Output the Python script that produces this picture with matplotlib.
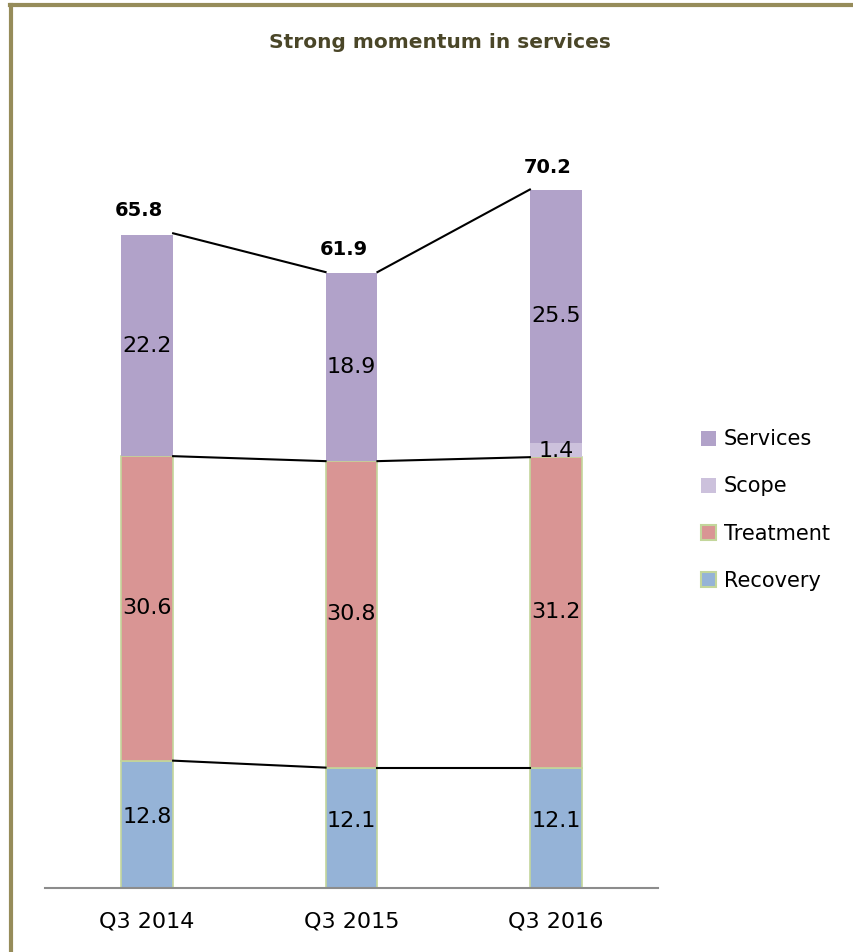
import matplotlib.pyplot as plt
from matplotlib.lines import Line2D
from matplotlib.patches import Patch

quarters = ['Q3 2014', 'Q3 2015', 'Q3 2016']
recovery = [12.8, 12.1, 12.1]
treatment = [30.6, 30.8, 31.2]
scope = [0, 0, 1.4]
services = [22.2, 18.9, 25.5]
totals = [65.8, 61.9, 70.2]

c_serv = '#B1A2C9'
c_scope = '#CCC1DC'
c_treat = '#D99594'
c_rec = '#95B3D7'
c_edge = '#C3D69B'
c_frame = '#968C5A'

plt.rcParams['font.family'] = ['DejaVu Sans']

fig = plt.figure(figsize=(8.54, 9.52), dpi=100)
ax = fig.add_axes([45 / 854, 64 / 952, 613 / 854, 796 / 952])

x = list(range(len(quarters)))
w = 0.254
b1 = recovery
b2 = [r + t for r, t in zip(recovery, treatment)]
b3 = [a + s for a, s in zip(b2, scope)]
ax.bar(x, recovery, w, color=c_rec, edgecolor=c_edge, linewidth=1.2)
ax.bar(x, treatment, w, bottom=b1, color=c_treat, edgecolor=c_edge, linewidth=1.2)
ax.bar(x, scope, w, bottom=b2, color=c_scope, linewidth=0)
ax.bar(x, services, w, bottom=b3, color=c_serv, linewidth=0)

# connector lines between bars
for lvl in (b1, b2, totals):
    for i in range(len(x) - 1):
        ax.plot([x[i] + w / 2, x[i + 1] - w / 2], [lvl[i], lvl[i + 1]],
                color='black', lw=1.5, zorder=3)

fs = 16
for i in x:
    ax.text(i, recovery[i] / 2 + 0.7, f'{recovery[i]}', ha='center', va='center', fontsize=fs)
    ax.text(i, b1[i] + treatment[i] / 2, f'{treatment[i]}', ha='center', va='center', fontsize=fs)
    if scope[i] > 0:
        ax.text(i, b2[i] + scope[i] / 2 - 0.1, f'{scope[i]}', ha='center', va='center', fontsize=fs)
    ax.text(i, b3[i] + services[i] / 2, f'{services[i]}', ha='center', va='center', fontsize=fs)
    ax.text(i - 0.04, totals[i] + 1.3, f'{totals[i]}', ha='center',
            va='bottom', fontsize=14, fontweight='bold')

ax.set_xlim(-0.5, 2.5)
ax.set_ylim(0, 80)
ax.set_xticks(x)
ax.set_xticklabels(quarters, fontsize=16)
ax.tick_params(axis='x', length=0, pad=17)
ax.set_yticks([])
for s in ['top', 'right', 'left']:
    ax.spines[s].set_visible(False)
ax.spines['bottom'].set_color('#8C8C8C')
ax.spines['bottom'].set_linewidth(1.5)

handles = [Patch(facecolor=c_serv, label='Services'),
           Patch(facecolor=c_scope, label='Scope'),
           Patch(facecolor=c_treat, edgecolor=c_edge, linewidth=1.5, label='Treatment'),
           Patch(facecolor=c_rec, edgecolor=c_edge, linewidth=1.5, label='Recovery')]
fig.legend(handles=handles, loc='center left', bbox_to_anchor=(682 / 854, 1 - 510 / 952),
           frameon=False, fontsize=15, handlelength=0.72, handleheight=0.72,
           handletextpad=0.4, labelspacing=1.3)

fig.text(440 / 854, 1 - 43 / 952, 'Strong momentum in services', ha='center', va='center',
         fontsize=14.5, fontweight='bold', color='#4A4628')

# frame
fig.add_artist(Line2D([10 / 854, 1], [1 - 5 / 952, 1 - 5 / 952], color=c_frame, lw=3,
                      transform=fig.transFigure))
fig.add_artist(Line2D([11 / 854, 11 / 854], [0, 1 - 5 / 952], color=c_frame, lw=3,
                      transform=fig.transFigure))

fig.savefig('out.png', dpi=100)
